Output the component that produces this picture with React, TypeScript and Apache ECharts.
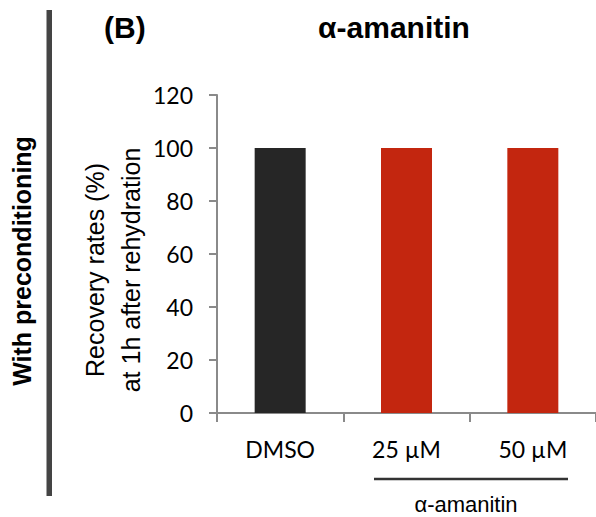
import React, { useEffect, useRef } from "react";
import * as echarts from "echarts";

const categories = ["DMSO", "25 µM", "50 µM"];
const values = [100, 100, 100];
const barColors = ["#262626", "#C3260F", "#C3260F"];
const yTicks = { min: 0, max: 120, interval: 20 };
const titleText = "α-amanitin";
const panelLabel = "(B)";
const sideLabel = "With preconditioning";
const yName = "Recovery rates (%)\nat 1h after rehydration";
const groupLabel = "α-amanitin";

export default function App() {
  const ref = useRef<HTMLDivElement>(null);
  useEffect(() => {
    if (!ref.current) return;
    const chart = echarts.init(ref.current, undefined, { renderer: "svg" });
    const axisGray = "#8a8a8a";
    chart.setOption({
      animation: false,
      backgroundColor: "#ffffff",
      grid: { left: 217, top: 95, width: 383, height: 318, containLabel: false },
      xAxis: {
        type: "category",
        data: categories,
        axisLine: { show: true, lineStyle: { color: axisGray, width: 2 } },
        axisTick: { show: true, length: 9, lineStyle: { color: axisGray, width: 2 } },
        axisLabel: { margin: 24, color: "#000", fontFamily: "Lato", fontSize: 23 },
        splitLine: { show: false },
      },
      yAxis: {
        type: "value",
        min: yTicks.min,
        max: yTicks.max,
        interval: yTicks.interval,
        axisLine: { show: true, lineStyle: { color: axisGray, width: 2 } },
        axisTick: { show: true, length: 8, lineStyle: { color: axisGray, width: 2 } },
        axisLabel: { margin: 24, color: "#000", fontFamily: "Lato", fontSize: 23 },
        splitLine: { show: false },
      },
      series: [
        {
          type: "bar",
          data: values.map((v, i) => ({ value: v, itemStyle: { color: barColors[i] } })),
          barWidth: 51,
        },
      ],
      graphic: [
        { type: "rect", shape: { x: 46.5, y: 10, width: 5.5, height: 486 }, style: { fill: "#444444" } },
        {
          type: "text",
          x: 21.5,
          y: 261,
          rotation: Math.PI / 2,
          style: {
            text: sideLabel,
            fontFamily: "Liberation Sans",
            fontWeight: "bold",
            fontSize: 25,
            fill: "#000",
            align: "center",
            verticalAlign: "middle",
          },
        },
        {
          type: "text",
          x: 113,
          y: 270,
          rotation: Math.PI / 2,
          style: {
            text: yName,
            fontFamily: "Liberation Sans",
            fontSize: 25,
            lineHeight: 36,
            fill: "#000",
            align: "center",
            verticalAlign: "middle",
          },
        },
        {
          type: "text",
          x: 104,
          y: 27,
          style: {
            text: panelLabel,
            fontFamily: "Liberation Sans",
            fontWeight: "bold",
            fontSize: 30,
            fill: "#000",
            align: "left",
            verticalAlign: "middle",
          },
        },
        {
          type: "text",
          x: 394,
          y: 27,
          style: {
            text: titleText,
            fontFamily: "Liberation Sans",
            fontWeight: "bold",
            fontSize: 30,
            fill: "#000",
            align: "center",
            verticalAlign: "middle",
          },
        },
        {
          type: "line",
          shape: { x1: 374, y1: 479, x2: 568, y2: 479 },
          style: { stroke: "#333333", lineWidth: 2.5 },
        },
        {
          type: "text",
          x: 466,
          y: 504,
          style: {
            text: groupLabel,
            fontFamily: "Liberation Sans",
            fontSize: 22,
            fill: "#000",
            align: "center",
            verticalAlign: "middle",
          },
        },
      ],
    });
    return () => chart.dispose();
  }, []);
  return (
    <div
      ref={ref}
      style={{ position: "absolute", left: 0, top: 0, width: 596, height: 517 }}
    />
  );
}
